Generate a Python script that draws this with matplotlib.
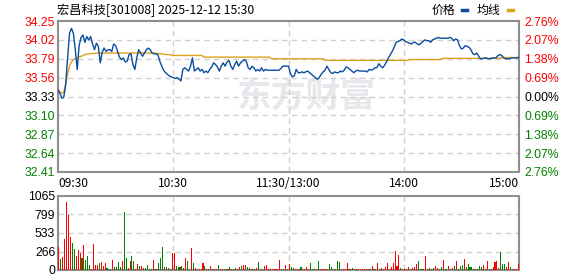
import matplotlib
matplotlib.use('Agg')
import matplotlib.pyplot as plt
from matplotlib.lines import Line2D
from matplotlib.transforms import blended_transform_factory

# 分时图数据
title = '宏昌科技[301008] 2025-12-12 15:30'
prev_close = 33.33
price_ticks = [34.25, 34.02, 33.79, 33.56, 33.33, 33.10, 32.87, 32.64, 32.41]
pct_labels = ['2.76%', '2.07%', '1.38%', '0.69%', '0.00%', '0.69%', '1.38%', '2.07%', '2.76%']
time_ticks = [0, 60, 120, 180, 240]
time_labels = ['09:30', '10:30', '11:30/13:00', '14:00', '15:00']
vol_ticks = [0, 266, 533, 799, 1065]

# 每分钟价格 (0..240)
price = [
    33.41, 33.37, 33.31, 33.32, 33.48, 33.80, 34.10, 34.16, 34.10, 33.90,
    33.66, 33.95, 34.05, 34.08, 33.99, 34.06, 34.02, 34.06, 33.97, 33.90,
    33.98, 33.94, 33.74, 33.87, 33.92, 33.88, 33.90, 33.90, 33.88, 33.97,
    33.95, 33.88, 33.81, 33.78, 33.80, 33.75, 33.76, 33.84, 33.85, 33.72,
    33.66, 33.80, 33.90, 33.86, 33.82, 33.86, 33.90, 33.92, 33.90, 33.86,
    33.85, 33.85, 33.84, 33.76, 33.70, 33.65, 33.62, 33.60, 33.58, 33.57,
    33.56, 33.55, 33.56, 33.54, 33.52, 33.66, 33.68, 33.66, 33.64, 33.70,
    33.80, 33.64, 33.66, 33.68, 33.64, 33.66, 33.62, 33.64, 33.62, 33.66,
    33.69, 33.74, 33.72, 33.69, 33.64, 33.70, 33.74, 33.70, 33.75, 33.77,
    33.70, 33.66, 33.72, 33.76, 33.70, 33.74, 33.76, 33.78, 33.76, 33.68,
    33.66, 33.70, 33.68, 33.64, 33.66, 33.64, 33.68, 33.64, 33.66, 33.65,
    33.65, 33.65, 33.65, 33.65, 33.65, 33.65, 33.67, 33.70, 33.70, 33.70,
    33.70, 33.61, 33.57, 33.58, 33.66, 33.62, 33.62, 33.63, 33.62, 33.63,
    33.64, 33.62, 33.60, 33.58, 33.56, 33.54, 33.56, 33.60, 33.63, 33.65,
    33.70, 33.66, 33.62, 33.61, 33.63, 33.62, 33.62, 33.64, 33.63, 33.65,
    33.69, 33.68, 33.66, 33.64, 33.62, 33.64, 33.65, 33.64, 33.64, 33.64,
    33.64, 33.63, 33.66, 33.65, 33.66, 33.68, 33.68, 33.73, 33.70, 33.68,
    33.71, 33.75, 33.80, 33.84, 33.88, 33.93, 33.99, 34.00, 34.01, 34.03,
    34.02, 34.00, 33.99, 33.98, 33.97, 33.99, 33.99, 33.97, 33.96, 33.98,
    34.00, 34.02, 34.01, 34.01, 33.99, 34.02, 34.03, 34.04, 34.05, 34.04,
    34.04, 34.04, 34.04, 34.04, 34.05, 34.04, 34.01, 34.03, 34.02, 33.95,
    33.91, 33.92, 33.95, 33.94, 33.93, 33.90, 33.85, 33.84, 33.86, 33.82,
    33.79, 33.79, 33.80, 33.80, 33.79, 33.79, 33.80, 33.80, 33.80, 33.83,
    33.84, 33.83, 33.80, 33.79, 33.79, 33.79, 33.80, 33.80, 33.80, 33.80,
    33.81,
]

# 均价线 (0..240)
avg = [
    33.41, 33.39, 33.37, 33.38, 33.47, 33.60, 33.70, 33.75, 33.78, 33.79,
    33.80, 33.81, 33.82, 33.83, 33.84, 33.845, 33.85, 33.85, 33.855, 33.855,
    33.86, 33.86, 33.86, 33.86, 33.86, 33.86, 33.86, 33.86, 33.86, 33.86,
    33.86, 33.86, 33.86, 33.86, 33.86, 33.86, 33.86, 33.86, 33.86, 33.86,
    33.86, 33.86, 33.86, 33.86, 33.86, 33.86, 33.86, 33.86, 33.86, 33.86,
    33.86, 33.855, 33.855, 33.85, 33.85, 33.845, 33.845, 33.84, 33.84, 33.835,
    33.83, 33.83, 33.83, 33.83, 33.83, 33.83, 33.83, 33.83, 33.83, 33.83,
    33.83, 33.83, 33.83, 33.83, 33.83, 33.83, 33.81, 33.81, 33.81, 33.81,
    33.81, 33.81, 33.81, 33.81, 33.81, 33.81, 33.81, 33.81, 33.81, 33.81,
    33.81, 33.81, 33.81, 33.81, 33.81, 33.81, 33.81, 33.81, 33.81, 33.81,
    33.81, 33.81, 33.81, 33.81, 33.81, 33.81, 33.81, 33.81, 33.81, 33.81,
    33.81, 33.79, 33.79, 33.79, 33.79, 33.79, 33.79, 33.79, 33.79, 33.79,
    33.79, 33.79, 33.79, 33.79, 33.79, 33.79, 33.79, 33.79, 33.79, 33.79,
    33.79, 33.79, 33.79, 33.79, 33.79, 33.79, 33.79, 33.79, 33.79, 33.77,
    33.77, 33.77, 33.77, 33.77, 33.77, 33.77, 33.77, 33.77, 33.77, 33.77,
    33.77, 33.77, 33.77, 33.77, 33.77, 33.77, 33.77, 33.77, 33.77, 33.77,
    33.77, 33.77, 33.77, 33.77, 33.77, 33.77, 33.77, 33.77, 33.77, 33.77,
    33.77, 33.77, 33.77, 33.77, 33.77, 33.77, 33.77, 33.77, 33.77, 33.77,
    33.77, 33.77, 33.77, 33.78, 33.78, 33.78, 33.78, 33.78, 33.78, 33.78,
    33.78, 33.78, 33.78, 33.78, 33.78, 33.78, 33.78, 33.78, 33.78, 33.78,
    33.795, 33.795, 33.795, 33.795, 33.795, 33.795, 33.795, 33.795, 33.795, 33.795,
    33.795, 33.795, 33.795, 33.795, 33.795, 33.795, 33.795, 33.795, 33.795, 33.795,
    33.795, 33.795, 33.795, 33.795, 33.795, 33.795, 33.795, 33.795, 33.795, 33.795,
    33.795, 33.805, 33.805, 33.805, 33.805, 33.805, 33.805, 33.805, 33.805, 33.805,
    33.805,
]

# 成交量 (1..240)
volume = [
    326, 154, 182, 442, 974, 792, 470, 384, 298, 202,
    288, 250, 168, 360, 144, 202, 72, 20, 374, 72,
    72, 96, 120, 58, 106, 24, 14, 14, 144, 38,
    38, 120, 48, 134, 835, 168, 24, 134, 202, 130,
    14, 86, 58, 58, 24, 24, 72, 14, 14, 144,
    14, 10, 96, 168, 336, 38, 48, 24, 20, 240,
    250, 58, 38, 38, 58, 24, 168, 130, 14, 312,
    96, 24, 14, 14, 14, 96, 58, 14, 14, 58,
    14, 14, 14, 72, 14, 14, 14, 14, 14, 38,
    14, 14, 29, 14, 38, 58, 72, 72, 48, 29,
    14, 14, 14, 29, 120, 14, 14, 58, 72, 14,
    14, 14, 14, 14, 14, 144, 14, 14, 72, 14,
    86, 38, 24, 14, 14, 14, 38, 14, 14, 38,
    14, 96, 14, 14, 14, 130, 14, 14, 14, 14,
    14, 86, 38, 14, 14, 130, 115, 14, 14, 14,
    101, 14, 14, 29, 14, 14, 14, 14, 14, 14,
    14, 14, 14, 58, 14, 14, 101, 14, 29, 14,
    43, 101, 14, 43, 101, 274, 58, 216, 29, 14,
    14, 14, 38, 14, 29, 38, 86, 130, 14, 14,
    14, 202, 14, 29, 14, 29, 58, 29, 14, 48,
    144, 14, 14, 58, 14, 29, 58, 130, 14, 58,
    72, 158, 38, 86, 43, 43, 14, 14, 14, 58,
    43, 72, 14, 130, 14, 14, 43, 115, 130, 29,
    264, 86, 86, 43, 115, 43, 14, 14, 14, 86,
]
vol_up = [
    1, 0, 1, 1, 1, 1, 1, 0, 0, 1,
    1, 1, 0, 1, 0, 0, 0, 1, 1, 1,
    1, 0, 1, 1, 1, 0, 0, 0, 1, 0,
    0, 0, 0, 1, 0, 0, 1, 1, 0, 0,
    1, 1, 0, 1, 1, 0, 0, 0, 0, 1,
    0, 1, 0, 0, 0, 1, 0, 0, 1, 1,
    1, 0, 0, 0, 1, 0, 1, 0, 0, 1,
    0, 1, 0, 1, 1, 1, 0, 1, 0, 1,
    1, 1, 1, 0, 1, 1, 0, 0, 1, 0,
    0, 1, 0, 1, 1, 0, 1, 1, 0, 0,
    1, 0, 1, 1, 0, 1, 0, 1, 1, 1,
    1, 1, 1, 1, 1, 1, 0, 1, 1, 0,
    1, 0, 0, 1, 1, 1, 0, 1, 1, 1,
    1, 0, 0, 0, 1, 0, 1, 1, 1, 1,
    1, 0, 0, 0, 1, 0, 0, 1, 1, 1,
    1, 1, 0, 0, 1, 1, 1, 1, 1, 1,
    1, 1, 0, 1, 0, 1, 1, 1, 0, 1,
    1, 1, 1, 1, 1, 1, 1, 1, 0, 1,
    1, 1, 1, 0, 1, 1, 1, 0, 0, 0,
    1, 1, 0, 1, 0, 0, 1, 1, 0, 0,
    1, 0, 0, 1, 0, 1, 0, 1, 0, 0,
    0, 1, 0, 0, 0, 0, 1, 0, 1, 0,
    0, 1, 1, 1, 0, 0, 1, 1, 1, 1,
    0, 0, 0, 1, 1, 0, 1, 1, 1, 1,
]

W, H = 578, 276
RED, GREEN, BLACK = '#ff0000', '#008000', '#000000'
BLUE, GOLD = '#0b4c9e', '#dba21c'
FRAME, GRID = '#8e8e8e', '#d0d0d0'
CJK = ['Noto Sans CJK SC', 'DejaVu Sans']
NUM = 'Liberation Sans'


def rect(l, t, r, b):
    return [l / W, 1 - b / H, (r - l) / W, (b - t) / H]


def style_frame(a):
    for s in a.spines.values():
        s.set_color(FRAME)
        s.set_linewidth(1.5)
    a.set_xticks([])
    a.tick_params(axis='y', length=0, pad=2, labelsize=8.8)
    for lab in a.get_yticklabels():
        lab.set_fontfamily(NUM)


def side_color(v):
    if abs(v - prev_close) < 1e-6:
        return BLACK
    return RED if v > prev_close else GREEN


fig = plt.figure(figsize=(W / 100, H / 100), dpi=100)
fig.patch.set_facecolor('white')

# ---- 价格区 ----
ax = fig.add_axes(rect(58, 21, 519, 172))
ax.set_xlim(0, 240)
ax.set_ylim(price_ticks[-1], price_ticks[0])
for y in price_ticks[1:-1]:
    ax.axhline(y, color=GRID, lw=1, ls=(0, (4, 3)), zorder=1)
for t in time_ticks[1:-1]:
    ax.axvline(t, color=GRID, lw=1, ls=(0, (4, 3)), zorder=1)

# 水印
ax.text(0.54, 0.5, '东方财富', transform=ax.transAxes, ha='center', va='center',
        fontsize=25, fontweight='bold', family=CJK, color='#e8e8ec', zorder=0)

ax.plot(range(len(avg)), avg, color=GOLD, lw=1.0, zorder=3)
ax.plot(range(len(price)), price, color=BLUE, lw=1.0, zorder=4)

ax.set_yticks(price_ticks)
ax.set_yticklabels(['%.2f' % v for v in price_ticks])
style_frame(ax)
for lab, v in zip(ax.get_yticklabels(), price_ticks):
    lab.set_color(side_color(v))

ax2 = ax.twinx()
ax2.set_ylim(ax.get_ylim())
ax2.set_yticks(price_ticks)
ax2.set_yticklabels(pct_labels)
ax2.tick_params(axis='y', length=0, pad=4, labelsize=8.8)
for s in ax2.spines.values():
    s.set_visible(False)
for lab, v in zip(ax2.get_yticklabels(), price_ticks):
    lab.set_color(side_color(v))
    lab.set_fontfamily(NUM)

trans = blended_transform_factory(ax.transData, ax.transAxes)
for i, (t, lab) in enumerate(zip(time_ticks, time_labels)):
    ha = 'left' if i == 0 else ('right' if i == len(time_ticks) - 1 else 'center')
    ax.text(t, -0.075, lab, transform=trans, ha=ha, va='center',
            fontsize=8.6, family=CJK, color=BLACK)

# ---- 成交量区 ----
axv = fig.add_axes(rect(58, 196, 519, 270))
axv.set_xlim(0, 240)
axv.set_ylim(vol_ticks[0], vol_ticks[-1])
for y in vol_ticks[1:-1]:
    axv.axhline(y, color=GRID, lw=1, ls=(0, (4, 3)), zorder=1)
for t in time_ticks[1:-1]:
    axv.axvline(t, color=GRID, lw=1, ls=(0, (4, 3)), zorder=1)
xs = [i + 0.5 for i in range(len(volume))]
cols = [RED if u else GREEN for u in vol_up]
axv.bar(xs, volume, width=0.55, color=cols, linewidth=0, zorder=3)
axv.set_yticks(vol_ticks)
axv.set_yticklabels([str(v) for v in vol_ticks])
style_frame(axv)

# ---- 标题与图例 ----
ty = 1 - 10 / H
fig.text(57 / W, ty, title, ha='left', va='center', fontsize=8.8, family=CJK, color=BLACK)
fig.text(432 / W, ty, '价格', ha='left', va='center', fontsize=8.6, family=CJK, color=BLACK)
fig.add_artist(Line2D([462 / W, 467 / W], [ty, ty], lw=2.5, color=BLUE, transform=fig.transFigure))
fig.text(477 / W, ty, '均线', ha='left', va='center', fontsize=8.6, family=CJK, color=BLACK)
fig.add_artist(Line2D([508 / W, 513 / W], [ty, ty], lw=2.5, color=GOLD, transform=fig.transFigure))

fig.savefig('out.png', dpi=100)
